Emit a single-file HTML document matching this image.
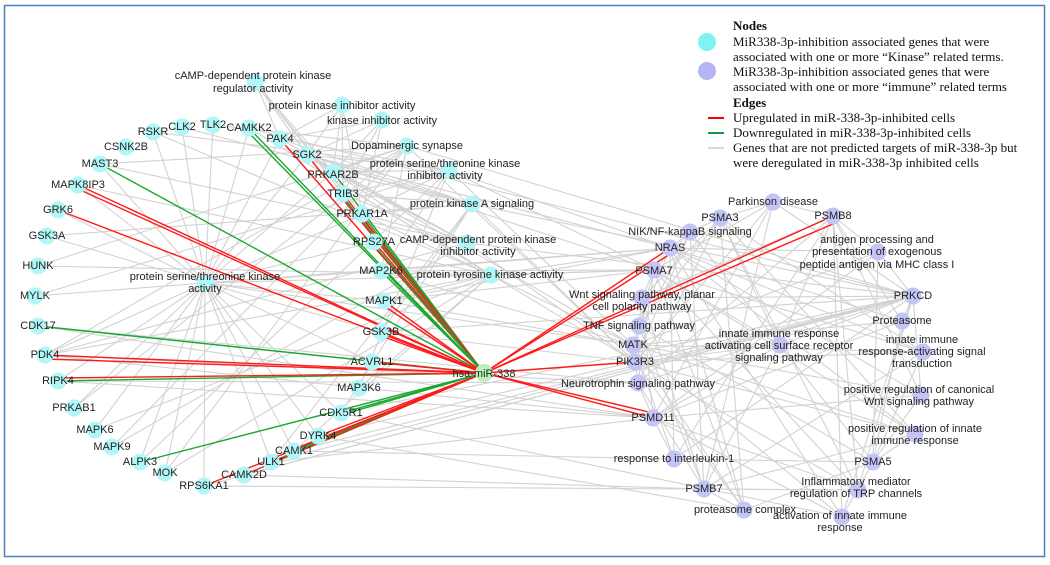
<!DOCTYPE html>
<html><head><meta charset="utf-8">
<style>
html,body{margin:0;padding:0;background:#fff;}
svg{display:block;}
.l{font-family:"Liberation Sans",sans-serif;font-size:11px;fill:#222;text-anchor:middle;dominant-baseline:middle;}
.g{font-family:"Liberation Serif",serif;font-size:13px;fill:#111;}
</style></head><body>
<svg id="s" width="1050" height="565" viewBox="0 0 1050 565" xmlns="http://www.w3.org/2000/svg">
<rect x="4.5" y="5.5" width="1040" height="551" fill="#fff" stroke="#4f7fb8" stroke-width="1.5"/>
<g id="ge" stroke="#d2d2d2" stroke-width="1.1" fill="none"></g>
<g id="ce" stroke-width="1.4" fill="none"></g>
<g id="nd"></g>
<g id="lb"></g>
<circle cx="707" cy="42" r="9" fill="#7ff3f3"/>
<circle cx="707" cy="71" r="9" fill="#b5b5f5"/>
<text class="g" x="733" y="30" font-weight="bold">Nodes</text>
<text class="g" x="733" y="46">MiR338-3p-inhibition associated genes that were</text>
<text class="g" x="733" y="61">associated with one or more “Kinase” related terms.</text>
<text class="g" x="733" y="76">MiR338-3p-inhibition associated genes that were</text>
<text class="g" x="733" y="91">associated with one or more “immune” related terms</text>
<text class="g" x="733" y="107" font-weight="bold">Edges</text>
<line x1="708" y1="118" x2="724" y2="118" stroke="#ff0000" stroke-width="2"/>
<line x1="708" y1="133" x2="724" y2="133" stroke="#00a040" stroke-width="2"/>
<line x1="708" y1="148" x2="724" y2="148" stroke="#d8d8d8" stroke-width="2"/>
<text class="g" x="733" y="122">Upregulated in miR-338-3p-inhibited cells</text>
<text class="g" x="733" y="137">Downregulated in miR-338-3p-inhibited cells</text>
<text class="g" x="733" y="152">Genes that are not predicted targets of miR-338-3p but</text>
<text class="g" x="733" y="167">were deregulated in miR-338-3p inhibited cells</text>
</svg>
<script>
var N={
CAMKK2:[249,128],TLK2:[213,125],CLK2:[182,127],RSKR:[153,132],CSNK2B:[126,147],MAST3:[100,164],MAPK8IP3:[78,185],GRK6:[58,210],GSK3A:[47,236],HUNK:[38,266],MYLK:[35,296],
PAK4:[280,139],SGK2:[307,155],PRKAR2B:[333,172],TRIB3:[343,194],PRKAR1A:[362,214],RPS27A:[374,242],MAP2K6:[381,271],MAPK1:[384,301],
CDK17:[38,326],GSK3B:[381,332],PDK4:[45,355],ACVRL1:[372,362],RIPK4:[58,381],MAP3K6:[359,388],PRKAB1:[74,408],CDK5R1:[341,413],MAPK6:[95,430],DYRK4:[318,436],MAPK9:[112,447],CAMK1:[294,451],ALPK3:[140,462],ULK1:[271,462],MOK:[165,473],CAMK2D:[244,475],RPS6KA1:[204,486],
T1:[205,283],T2:[255,82],T3:[342,105],T4:[382,120],T5:[407,146],T6:[449,170],T7:[472,204],T8:[467,243],T9:[491,275],
HUB:[484,373],
PD:[773,202],PSMA3:[720,218],PSMB8:[833,216],NIK:[690,232],NRAS:[670,248],AG:[878,252],PSMA7:[654,270],WNT:[642,298],PRKCD:[913,296],TNF:[639,326],PROT:[902,321],MATK:[633,345],IIR:[780,345],IIS:[923,352],PIK3R3:[635,362],NEU:[638,383],PRW:[921,395],PSMD11:[653,418],PRI:[915,434],IL1:[674,459],PSMA5:[873,462],INF:[858,490],PSMB7:[704,489],PC:[744,510],AII:[842,517]
};
var lab=[
["CAMKK2",249,128],["TLK2",213,125],["CLK2",182,127],["RSKR",153,132],["CSNK2B",126,147],["MAST3",100,164],["MAPK8IP3",78,185],["GRK6",58,210],["GSK3A",47,236],["HUNK",38,266],["MYLK",35,296],
["PAK4",280,139],["SGK2",307,155],["PRKAR2B",333,175],["TRIB3",343,194],["PRKAR1A",362,214],["RPS27A",374,242],["MAP2K6",381,271],["MAPK1",384,301],
["CDK17",38,326],["GSK3B",381,332],["PDK4",45,355],["ACVRL1",372,362],["RIPK4",58,381],["MAP3K6",359,388],["PRKAB1",74,408],["CDK5R1",341,413],["MAPK6",95,430],["DYRK4",318,436],["MAPK9",112,447],["CAMK1",294,451],["ALPK3",140,462],["ULK1",271,462],["MOK",165,473],["CAMK2D",244,475],["RPS6KA1",204,486],
["protein serine/threonine kinase",205,277],["activity",205,289],
["cAMP-dependent protein kinase",253,76],["regulator activity",253,89],
["protein kinase inhibitor activity",342,106],["kinase inhibitor activity",382,121],["Dopaminergic synapse",407,146],
["protein serine/threonine kinase",445,164],["inhibitor activity",445,176],["protein kinase A signaling",472,204],
["cAMP-dependent protein kinase",478,240],["inhibitor activity",478,252],["protein tyrosine kinase activity",490,275],
["hsa-miR-338",484,374],
["Parkinson disease",773,202],["PSMA3",720,218],["PSMB8",833,216],["NIK/NF-kappaB signaling",690,232],["NRAS",670,248],
["antigen processing and",877,240],["presentation of exogenous",877,252],["peptide antigen via MHC class I",877,265],
["PSMA7",654,271],["Wnt signaling pathway, planar",642,295],["cell polarity pathway",642,307],["PRKCD",913,296],["TNF signaling pathway",639,326],["Proteasome",902,321],["MATK",633,345],
["innate immune response",779,334],["activating cell surface receptor",779,346],["signaling pathway",779,358],
["innate immune",922,340],["response-activating signal",922,352],["transduction",922,364],
["PIK3R3",635,362],["Neurotrophin signaling pathway",638,384],
["positive regulation of canonical",919,390],["Wnt signaling pathway",919,402],["PSMD11",653,418],
["positive regulation of innate",915,429],["immune response",915,441],["response to interleukin-1",674,459],["PSMA5",873,462],
["Inflammatory mediator",856,482],["regulation of TRP channels",856,494],["PSMB7",704,489],["proteasome complex",745,510],
["activation of innate immune",840,516],["response",840,528]
];
var kin=["CAMKK2","TLK2","CLK2","RSKR","CSNK2B","MAST3","MAPK8IP3","GRK6","GSK3A","HUNK","MYLK","PAK4","SGK2","PRKAR2B","TRIB3","PRKAR1A","RPS27A","MAP2K6","MAPK1","CDK17","GSK3B","PDK4","ACVRL1","RIPK4","MAP3K6","PRKAB1","CDK5R1","MAPK6","DYRK4","MAPK9","CAMK1","ALPK3","ULK1","MOK","CAMK2D","RPS6KA1","T1","T2","T3","T4","T5","T6","T7","T8","T9"];
var imm=["PD","PSMA3","PSMB8","NIK","NRAS","AG","PSMA7","WNT","PRKCD","TNF","PROT","MATK","IIR","IIS","PIK3R3","NEU","PRW","PSMD11","PRI","IL1","PSMA5","INF","PSMB7","PC","AII"];
var E=[];
var kg=kin.slice(0,36);
kg.forEach(function(g,i){
 if(i%5!=4)E.push([g,"T1"]);
 if(i%3==0)E.push([g,"T9"]);
 if(i%4==1)E.push([g,"T5"]);
 if(i%6==2)E.push([g,"T7"]);
 if(i%7==3)E.push([g,"T6"]);
 if(i%8==5)E.push([g,"T8"]);
});
["PRKAR2B","PRKAR1A","TRIB3","SGK2","PAK4"].forEach(function(g){E.push([g,"T2"]);E.push([g,"T3"]);E.push([g,"T4"]);E.push([g,"T7"]);E.push([g,"T8"]);E.push([g,"T6"]);});
var ig=["PSMA3","PSMB8","NRAS","PSMA7","PRKCD","MATK","PIK3R3","PSMD11","PSMA5","PSMB7"];
var it=["PD","NIK","AG","WNT","TNF","PROT","IIR","IIS","PRW","NEU","PRI","IL1","INF","PC","AII"];
ig.forEach(function(g,i){it.forEach(function(t,j){if((i+j)%3!=2)E.push([g,t]);});});
["NRAS","PIK3R3","MATK","PRKCD","PSMA7"].forEach(function(g,i){["T1","T7","T9","T5","T6","T8","MAPK1","GSK3B","MAP2K6","CAMKK2","SGK2"].forEach(function(t,j){if((i+j)%2==0)E.push([g,t]);});});
["CAMK2D","ULK1","CAMK1","DYRK4","CDK5R1","RPS6KA1"].forEach(function(g,i){E.push([g,["PSMB7","PSMD11","IL1","PC","AII","INF"][i]]);E.push([g,"PRKCD"]);});
["RIPK4","PDK4","CDK17"].forEach(function(g){E.push([g,"PSMD11"]);E.push([g,"NEU"]);});
var ns="http://www.w3.org/2000/svg";
function ln(p,a,b,c,w){var l=document.createElementNS(ns,"line");l.setAttribute("x1",a[0]);l.setAttribute("y1",a[1]);l.setAttribute("x2",b[0]);l.setAttribute("y2",b[1]);if(c)l.setAttribute("stroke",c);if(w)l.setAttribute("stroke-width",w);p.appendChild(l);}
var ge=document.getElementById("ge");
E.forEach(function(e){ln(ge,N[e[0]],N[e[1]]);});
var R="#ff1a1a",G="#1aa830",ce=document.getElementById("ce"),H=N.HUB;
function off(p,d){return [p[0],p[1]+d];}
[["MAST3",G],["MAPK8IP3",R],["GRK6",R],["CDK17",G],["PDK4",R],["RIPK4",G],["ACVRL1",R],["CAMKK2",G],["PAK4",R],["SGK2",R],["PRKAR2B",G],["TRIB3",R],["PRKAR1A",G],["RPS27A",R],["MAP2K6",G],["MAPK1",R],["GSK3B",R],["CDK5R1",G],["ALPK3",G],["DYRK4",R],["CAMK1",G],["ULK1",G],["CAMK2D",R],["RPS6KA1",R],["NRAS",R],["PSMB8",R],["PIK3R3",R],["PSMD11",R]].forEach(function(e){ln(ce,N[e[0]],H,e[1]);});
[["MAPK8IP3",R,4],["PDK4",R,4],["RIPK4",R,-3],["CAMKK2",G,5],["TRIB3",G,3],["PRKAR1A",R,3],["RPS27A",G,3],["MAPK1",R,5],["GSK3B",R,4],["CAMK1",R,-2],["NRAS",R,6],["PSMB8",R,8],["PSMD11",R,-5],["CDK5R1",G,2]].forEach(function(e){ln(ce,off(N[e[0]],e[2]),H,e[1]);});
var nd=document.getElementById("nd");
for(var k in N){var c=document.createElementNS(ns,"circle");c.setAttribute("cx",N[k][0]);c.setAttribute("cy",N[k][1]);c.setAttribute("r",k=="HUB"?9:8.5);
c.setAttribute("fill",k=="HUB"?"#b8f0b8":(imm.indexOf(k)>=0?"#c4c4f7":"#b2f6f8"));nd.appendChild(c);}
var lb=document.getElementById("lb");
lab.forEach(function(a){var t=document.createElementNS(ns,"text");t.setAttribute("class","l");t.setAttribute("x",a[1]);t.setAttribute("y",a[2]);t.textContent=a[0];lb.appendChild(t);});
</script>
</body></html>
